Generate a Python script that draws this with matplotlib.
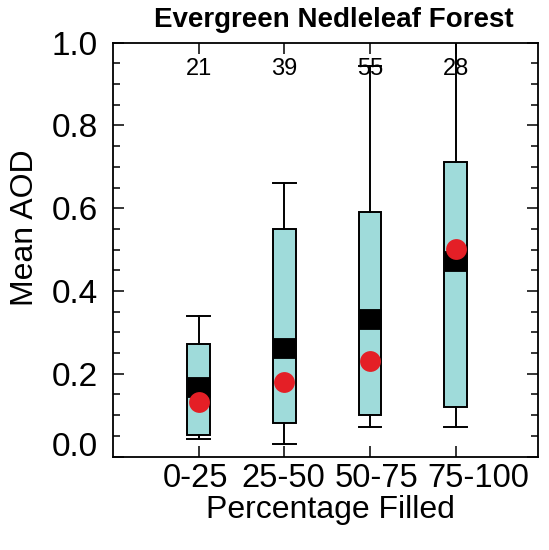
import matplotlib
matplotlib.use("Agg")
import matplotlib.pyplot as plt
from matplotlib.ticker import MultipleLocator, FixedLocator, NullFormatter

categories = ['0-25', '25-50', '50-75', '75-100']
counts = [21, 39, 55, 28]
whisker_low = [0.042, 0.030, 0.071, 0.071]
q1 = [0.052, 0.080, 0.100, 0.120]
median = [0.169, 0.261, 0.332, 0.472]
q3 = [0.271, 0.550, 0.591, 0.711]
whisker_high = [0.340, 0.660, 0.944, 1.05]
means = [0.131, 0.181, 0.231, 0.501]
yticks = [0.0, 0.2, 0.4, 0.6, 0.8, 1.0]
# category labels in the original are set as one spaced line, so they sit off-centre
label_offsets = [-0.037, -0.01, 0.076, 0.26]

plt.rcParams['font.family'] = ['Liberation Sans', 'DejaVu Sans']

fig = plt.figure(figsize=(5.49, 5.50), dpi=100)
ax = fig.add_axes([113/549, 1-456.5/550, 425/549, (456.5-42.7)/550])

positions = list(range(1, len(categories) + 1))
stats = []
for i in range(len(categories)):
    stats.append(dict(med=median[i], q1=q1[i], q3=q3[i],
                      whislo=whisker_low[i], whishi=whisker_high[i],
                      mean=means[i], label=categories[i]))

bw = 0.265
ax.bxp(stats, positions=positions, widths=bw, capwidths=bw,
       showmeans=True, showfliers=False, patch_artist=True,
       boxprops=dict(facecolor='#9fdbda', edgecolor='black', linewidth=1.4),
       whiskerprops=dict(color='black', linewidth=1.4),
       capprops=dict(color='black', linewidth=1.4),
       medianprops=dict(color='black', linewidth=15, solid_capstyle='butt'),
       meanprops=dict(marker='o', markerfacecolor='#e41f26', markeredgecolor='none',
                      markersize=15))

for p, c in zip(positions, counts):
    ax.text(p, 0.922, str(c), ha='center', va='baseline', fontsize=17)

ax.set_xlim(0, 4.96)
ax.set_ylim(0, 1.0)

# major x ticks: marks only; minor x ticks: labels only
ax.xaxis.set_major_locator(FixedLocator(positions))
ax.xaxis.set_major_formatter(NullFormatter())
ax.xaxis.set_minor_locator(FixedLocator([p + o for p, o in zip(positions, label_offsets)]))
ax.xaxis.set_minor_formatter(matplotlib.ticker.FixedFormatter(categories))

ax.yaxis.set_major_locator(FixedLocator(yticks))
ax.yaxis.set_minor_locator(MultipleLocator(0.05))
ax.yaxis.set_major_formatter(matplotlib.ticker.FormatStrFormatter('%.1f'))

ax.tick_params(axis='both', which='both', direction='in', top=True, right=True,
               width=1.1, colors='black')
ax.tick_params(axis='both', which='major', length=8, labelsize=24)
ax.tick_params(axis='y', which='minor', length=5)
ax.tick_params(axis='x', which='minor', length=0, labelsize=23.5, pad=4.5)
ax.tick_params(axis='y', which='major', pad=11)
for s in ax.spines.values():
    s.set_linewidth(1.3)

fig.canvas.draw()
ylabels = ax.get_yticklabels()
ylabels[0].set_verticalalignment('baseline')

ax.set_xlabel('Percentage Filled', fontsize=23)
ax.xaxis.label.set_verticalalignment('baseline')
ax.xaxis.set_label_coords(0.512, -0.1475)
ax.set_ylabel('Mean AOD', fontsize=23)
ax.yaxis.label.set_verticalalignment('baseline')
ax.yaxis.set_label_coords(-0.188, 0.5 + (249.6 - 228) / 413.8)

ax.set_title('Evergreen Nedleleaf Forest', fontsize=20, fontweight='bold',
             x=0.52, y=1.0387, va='baseline', pad=0)

fig.savefig('out.png', dpi=100)
